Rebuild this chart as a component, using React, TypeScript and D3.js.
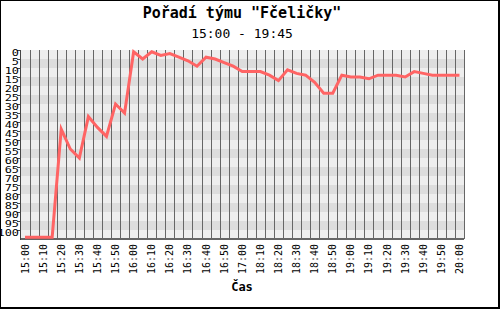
import React from "react";
import * as d3 from "d3";

const times: string[] = [
  "15:00","15:05","15:10","15:15","15:20","15:25","15:30","15:35","15:40","15:45",
  "15:50","15:55","16:00","16:05","16:10","16:15","16:20","16:25","16:30","16:35",
  "16:40","16:45","16:50","16:55","17:00","18:05","18:10","18:15","18:20","18:25",
  "18:30","18:35","18:40","18:45","18:50","18:55","19:00","19:05","19:10","19:15",
  "19:20","19:25","19:30","19:35","19:40","19:45","19:50","19:55","20:00",
];

const ranks: number[] = [
  104,104,104,104,44,55,60,37,43,48,
  30,35,1,5,1,3,2,4,6,9,
  4,5,7,9,12,12,12,14,17,11,
  13,14,18,24,24,14,15,15,16,14,
  14,14,15,12,13,14,14,14,14,
];

const yTicks: number[] = [0,5,10,15,20,25,30,35,40,45,50,55,60,65,70,75,80,85,90,95,100];

const title = "Pořadí týmu \"Fčeličky\"";
const subtitle = "15:00 - 19:45";
const xTitle = "Čas";

export default function App() {
  const W = 500, H = 309;
  const x = d3.scaleBand<string>().domain(times).range([20.5, 464]).padding(0);
  const y = d3.scaleLinear().domain([0, 105]).range([50, 239]);
  const bw = x.bandwidth();
  const cx = (t: string) => (x(t) as number) + bw / 2;

  const line = d3
    .line<number>()
    .x((_, i) => cx(times[i]))
    .y((d) => y(d));

  const bands = d3.range(0, 105, 5);
  const gridXs = times.map((t) => x(t) as number).concat([464]);
  const mono = "'DejaVu Sans Mono', monospace";

  return (
    <svg
      width={W}
      height={H}
      style={{ position: "absolute", left: 0, top: 0, background: "#fff" }}
    >
      <rect x={0} y={0} width={W} height={H} fill="#fff" />
      {bands.map((b, k) => (
        <rect
          key={"b" + b}
          x={20.5}
          y={y(b)}
          width={464 - 20.5}
          height={y(b + 5) - y(b)}
          fill={k % 2 === 0 ? "#eeeeee" : "#dddddd"}
        />
      ))}
      {gridXs.map((gx, i) => (
        <line
          key={"g" + i}
          x1={Math.round(gx) + 0.5}
          x2={Math.round(gx) + 0.5}
          y1={50}
          y2={239}
          stroke="#666"
          strokeWidth={1}
        />
      ))}
      <line x1={20.5} x2={464} y1={239} y2={239} stroke="#666" strokeWidth={2} />
      <line x1={20.5} x2={20.5} y1={50} y2={240} stroke="#444" strokeWidth={1} />
      {yTicks.map((v) => (
        <g key={"yt" + v}>
          <line x1={17} x2={21} y1={Math.round(y(v)) + 0.5} y2={Math.round(y(v)) + 0.5} stroke="#444" />
          <text
            transform={`translate(19,${y(v) + 2.5}) scale(1.25,1)`}
            dy="0.35em"
            textAnchor="end"
            fontFamily={mono}
            fontSize={9.5}
            fill="#000"
          >
            {v}
          </text>
        </g>
      ))}
      <path
        d={line(ranks) || ""}
        fill="none"
        stroke="#ff6464"
        strokeWidth={3}
        strokeLinejoin="miter"
      />
      {times.map((t, i) =>
        i % 2 === 0 ? (
          <text
            key={"xt" + t}
            transform={`translate(${cx(t)},244) rotate(-90)`}
            dy="0.35em"
            textAnchor="end"
            fontFamily={mono}
            fontSize={10}
            fill="#000"
          >
            {t}
          </text>
        ) : null
      )}
      <text x={242} y={18} textAnchor="middle" fontFamily={mono} fontWeight="bold" fontSize={15} fill="#000">
        {title}
      </text>
      <text x={242} y={38} textAnchor="middle" fontFamily={mono} fontSize={13} fill="#000">
        {subtitle}
      </text>
      <text x={242} y={291} textAnchor="middle" fontFamily={mono} fontWeight="bold" fontSize={12} fill="#000">
        {xTitle}
      </text>
      <rect x={0} y={0} width={W} height={1} fill="#000" />
      <rect x={0} y={0} width={1} height={H} fill="#000" />
      <rect x={W - 2} y={0} width={2} height={H} fill="#000" />
      <rect x={0} y={H - 2} width={W} height={2} fill="#000" />
    </svg>
  );
}
